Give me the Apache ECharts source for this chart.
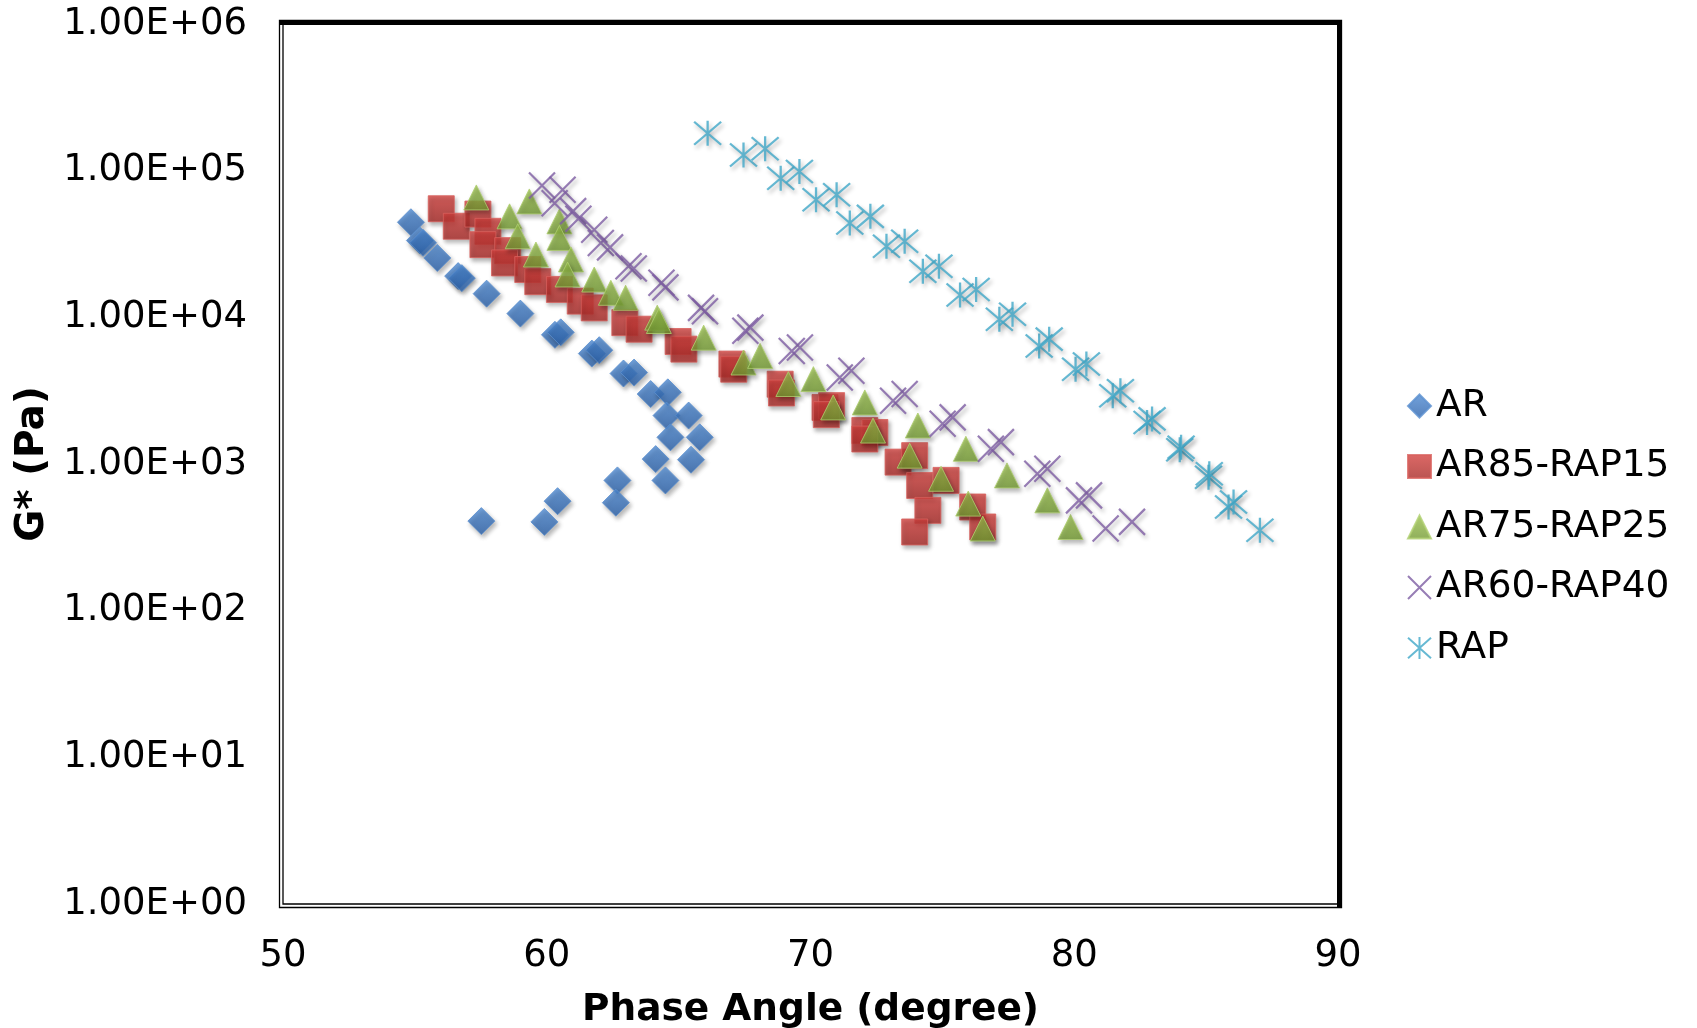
<!DOCTYPE html>
<html><head><meta charset="utf-8">
<script src="https://cdn.jsdelivr.net/npm/echarts@6/dist/echarts.min.js"></script>
<style>html,body{margin:0;padding:0;background:#fff}#c{width:1697px;height:1028px}</style>
</head><body><div id="c"></div>
<script>
const seriesNames = ['AR', 'AR85-RAP15', 'AR75-RAP25', 'AR60-RAP40', 'RAP'];
const yTickLabels = ['1.00E+00', '1.00E+01', '1.00E+02', '1.00E+03', '1.00E+04', '1.00E+05', '1.00E+06'];
const xName = 'Phase Angle (degree)';
const yName = 'G* (Pa)';

const AR = [[54.85,44500],[55.19,33400],[55.31,32200],[55.85,25400],[56.64,19100],[56.78,18500],[57.72,14500],[59.0,10600],[60.31,7600],[60.53,7900],[61.71,5660],[61.99,5970],[62.91,4140],[63.31,4200],[63.94,3000],[64.59,3080],[64.54,2140],[65.38,2140],[64.69,1520],[65.80,1520],[64.13,1080],[65.47,1070],[62.68,773],[64.50,773],[62.62,545],[60.41,558],[59.91,403],[57.52,408]];
const AR85 = [[56.0,55000],[56.57,41800],[57.39,50600],[57.77,38600],[57.58,31300],[58.52,28500],[58.40,23500],[59.28,21200],[59.66,17500],[60.48,15500],[61.27,12900],[61.80,11600],[62.96,9200],[63.50,8300],[64.98,6840],[65.2,6070],[67.02,4800],[67.09,4430],[68.85,3500],[68.9,3050],[70.55,2430],[70.80,2500],[70.6,2170],[72.06,1690],[72.44,1640],[72.06,1480],[73.32,1030],[73.95,1140],[74.14,714],[75.14,773],[74.45,483],[76.15,509],[76.53,372],[73.95,344]];
const AR75 = [[57.33,65700],[58.59,48800],[59.34,61700],[58.90,35700],[60.48,45100],[60.48,34800],[59.59,26800],[60.92,24800],[60.79,19600],[61.80,18100],[62.43,14700],[62.99,13600],[64.19,9950],[64.25,9440],[65.95,7270],[67.46,4920],[68.09,5460],[69.16,3510],[70.11,3790],[70.86,2430],[72.06,2630],[72.37,1690],[74.07,1830],[73.76,1140],[74.95,793],[75.89,1270],[75.98,537],[76.53,363],[77.45,836],[78.98,565],[79.86,372]];
const AR60 = [[59.82,79200],[60.6,74100],[60.3,60000],[61.0,53000],[61.2,47000],[61.8,39600],[62.05,32100],[62.4,30000],[63.1,22300],[63.3,21500],[64.35,17200],[64.5,16000],[65.85,11600],[66.0,11000],[67.53,8090],[67.72,8510],[69.29,5900],[69.60,6220],[71.11,3890],[71.55,4320],[73.13,2700],[73.57,3000],[75.01,1880],[75.39,2080],[76.84,1270],[77.22,1410],[78.60,857],[78.98,927],[80.18,565],[80.56,611],[81.19,363],[82.19,403]];
const RAP = [[66.10,180000],[67.46,128000],[68.28,141000],[68.87,88900],[69.58,98700],[70.21,63400],[70.99,68500],[71.49,44000],[72.27,48800],[72.88,30500],[73.57,33000],[74.26,20600],[74.87,22300],[75.67,14200],[76.28,15500],[77.16,9690],[77.66,10500],[78.67,6380],[79.05,7100],[80.05,4430],[80.46,4800],[81.46,2920],[81.75,3160],[82.76,1920],[82.95,2030],[84.0,1250],[84.05,1300],[85.09,813],[85.12,857],[85.85,509],[86.04,551],[87.04,353]];

const FONT = 'DejaVu Sans';
const shadow = {shadowBlur: 4, shadowOffsetX: 2, shadowOffsetY: 3, shadowColor: 'rgba(0,0,0,0.35)'};
function grad(a, b) { return {type: 'linear', x: 0, y: 0, x2: 0, y2: 1, colorStops: [{offset: 0, color: a}, {offset: 1, color: b}]}; }

const chart = echarts.init(document.getElementById('c'), null, {renderer: 'canvas'});
const option = {
  animation: false,
  backgroundColor: '#fff',
  grid: {left: 283, right: 359, top: 24, bottom: 124, outerBoundsMode: 'none', containLabel: false,
    show: true, borderColor: '#000', borderWidth: 1.3, backgroundColor: '#fff'},
  xAxis: {
    type: 'value', min: 50, max: 90, interval: 10,
    axisLine: {show: false}, axisTick: {show: false}, splitLine: {show: false},
    axisLabel: {fontFamily: FONT, fontSize: 37, color: '#000', margin: 34},
    name: xName, nameLocation: 'middle', nameGap: 87,
    nameTextStyle: {fontFamily: FONT, fontSize: 37.5, fontWeight: 'bold', color: '#000'}
  },
  yAxis: {
    type: 'log', logBase: 10, min: 1, max: 1e6, splitNumber: 6,
    axisLine: {show: false}, axisTick: {show: false}, splitLine: {show: false},
    axisLabel: {fontFamily: FONT, fontSize: 37, color: '#000', margin: 36,
      formatter: v => yTickLabels[Math.round(Math.log10(v))]},
    name: yName, nameLocation: 'middle', nameGap: 226,
    nameTextStyle: {fontFamily: FONT, fontSize: 39, fontWeight: 'bold', color: '#000'}
  },
  legend: {
    orient: 'vertical', left: 1402, top: 381, itemWidth: 23, itemHeight: 23, itemGap: 20.5,
    textStyle: {fontFamily: FONT, fontSize: 37.5, color: '#000', lineHeight: 40},
    data: seriesNames
  },
  graphic: [
    {type: 'rect', silent: true, z: 10, shape: {x: 279.5, y: 20.5, width: 1062, height: 887}, style: {fill: 'none', stroke: '#000', lineWidth: 1.3}},
    {type: 'rect', silent: true, z: 10, shape: {x: 279, y: 20, width: 1063, height: 5}, style: {fill: '#000'}},
    {type: 'rect', silent: true, z: 10, shape: {x: 1337, y: 20, width: 5, height: 888}, style: {fill: '#000'}}
  ],
  series: [
    {name: seriesNames[0], type: 'scatter', data: AR, symbol: 'diamond', symbolSize: 27,
      itemStyle: Object.assign({color: grad('#4f8bd3', '#2c62ab'), borderColor: '#5b90d0', borderWidth: 1}, shadow)},
    {name: seriesNames[1], type: 'scatter', data: AR85, symbol: 'rect', symbolSize: 26,
      itemStyle: Object.assign({color: grad('#d4423f', '#a82a27'), borderColor: '#d8615e', borderWidth: 1}, shadow)},
    {name: seriesNames[2], type: 'scatter', data: AR75, symbol: 'triangle', symbolSize: 25,
      itemStyle: Object.assign({color: grad('#9cc24e', '#739a32'), borderColor: '#b0d070', borderWidth: 1}, shadow)},
    {name: seriesNames[3], type: 'scatter', data: AR60, symbol: 'path://M0,0L10,10M10,0L0,10', symbolSize: 26,
      itemStyle: Object.assign({color: 'rgba(0,0,0,0)', borderColor: '#7d5ca3', borderWidth: 2.2}, shadow)},
    {name: seriesNames[4], type: 'scatter', data: RAP, symbol: 'path://M13,0L13,25M0,1L26,24M26,1L0,24', symbolSize: [27, 25],
      itemStyle: Object.assign({color: 'rgba(0,0,0,0)', borderColor: '#40a8c8', borderWidth: 2.2}, shadow)}
  ]
};
chart.setOption(option);
</script>
</body></html>
